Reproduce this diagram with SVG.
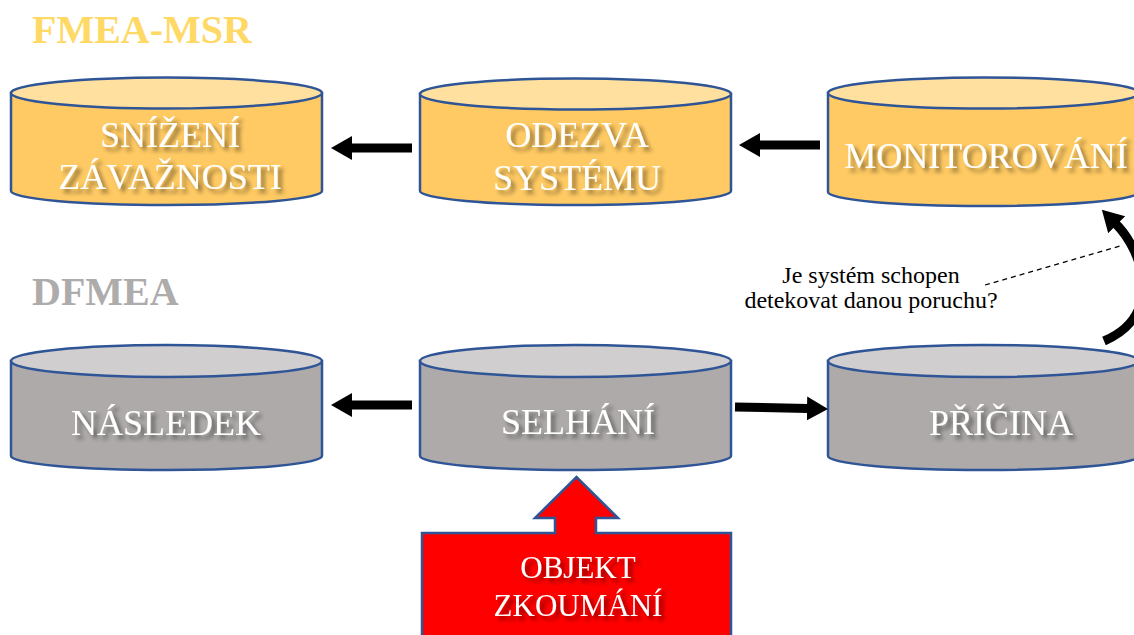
<svg xmlns="http://www.w3.org/2000/svg" width="1134" height="635" viewBox="0 0 1134 635">
<style>
.side-y{fill:#FFCA63;stroke:#2F5597;stroke-width:2.5}
.top-y{fill:#FFE09F;stroke:#2F5597;stroke-width:2.5}
.side-g{fill:#AEAAAA;stroke:#2F5597;stroke-width:2.5}
.top-g{fill:#D0CECE;stroke:#2F5597;stroke-width:2.5}
.lbl{font-family:"Liberation Serif","Times New Roman",serif;font-size:36px;fill:#FFFFFF;text-anchor:middle;filter:url(#sh)}
.lbl2{font-family:"Liberation Serif","Times New Roman",serif;font-size:31px;fill:#FFFFFF;text-anchor:middle;filter:url(#sh)}
.title{font-family:"Liberation Serif","Times New Roman",serif;font-size:40px;font-weight:bold}
.q{font-family:"Liberation Serif","Times New Roman",serif;font-size:24px;fill:#000;text-anchor:middle}
.arr{fill:none;stroke:#000;stroke-width:9}
</style>
<defs>
<filter id="sh" x="-10%" y="-30%" width="130%" height="180%">
<feGaussianBlur in="SourceAlpha" stdDeviation="2"/>
<feOffset dx="4" dy="4" result="b"/>
<feComponentTransfer><feFuncA type="linear" slope="0.45"/></feComponentTransfer>
<feMerge><feMergeNode/><feMergeNode in="SourceGraphic"/></feMerge>
</filter>
<marker id="ah" markerUnits="userSpaceOnUse" markerWidth="22" markerHeight="26" viewBox="0 0 22 26" refX="1" refY="13" orient="auto">
<path d="M0,1 L21,13 L0,25 Z" fill="#000"/>
</marker>
</defs>
<rect width="1134" height="635" fill="#FFFFFF"/>
<text class="title" x="32" y="43" fill="#FFD966">FMEA-MSR</text>
<text class="title" x="32" y="305" fill="#AEABAB">DFMEA</text>

<g id="snizeni">
<path class="side-y" d="M11,93 L11,191 A155.5,14 0 0 0 322,191 L322,93 Z"/>
<ellipse class="top-y" cx="166.5" cy="93" rx="155.5" ry="15.5"/>
<text class="lbl" x="170" y="147">SNÍŽENÍ</text>
<text class="lbl" x="170" y="189">ZÁVAŽNOSTI</text>
</g>
<g id="odezva">
<path class="side-y" d="M420,94 L420,191 A155.5,14 0 0 0 731,191 L731,94 Z"/>
<ellipse class="top-y" cx="575.5" cy="94" rx="155.5" ry="15.5"/>
<text class="lbl" x="577" y="147">ODEZVA</text>
<text class="lbl" x="577" y="190">SYSTÉMU</text>
</g>
<g id="monitorovani">
<path class="side-y" d="M828,93 L828,192 A155.5,14 0 0 0 1139,192 L1139,93 Z"/>
<ellipse class="top-y" cx="983.5" cy="93" rx="155.5" ry="15.5"/>
<text class="lbl" x="986" y="168">MONITOROVÁNÍ</text>
</g>
<g id="nasledek">
<path class="side-g" d="M11,361 L11,456 A155.5,14 0 0 0 322,456 L322,361 Z"/>
<ellipse class="top-g" cx="166.5" cy="361" rx="155.5" ry="16"/>
<text class="lbl" x="166" y="435">NÁSLEDEK</text>
</g>
<g id="selhani">
<path class="side-g" d="M420,361 L420,456 A155.5,14 0 0 0 731,456 L731,361 Z"/>
<ellipse class="top-g" cx="575.5" cy="361" rx="155.5" ry="16"/>
<text class="lbl" x="578" y="434">SELHÁNÍ</text>
</g>
<g id="pricina">
<path class="side-g" d="M828,361 L828,456 A155.5,14 0 0 0 1139,456 L1139,361 Z"/>
<ellipse class="top-g" cx="983.5" cy="361" rx="155.5" ry="16"/>
<text class="lbl" x="1001" y="435">PŘÍČINA</text>
</g>
<g id="objekt">
<path d="M422,533 L555,533 L555,518 L535,518 L576.5,477 L618,518 L596,518 L596,533 L731,533 L731,640 L422,640 Z" fill="#FF0000" stroke="#2F5597" stroke-width="2.5"/>
<text class="lbl2" x="578" y="578">OBJEKT</text>
<text class="lbl2" x="578" y="616">ZKOUMÁNÍ</text>
</g>
<g id="otazka">
<text class="q" x="871" y="283">Je systém schopen</text>
<text class="q" x="871" y="308">detekovat danou poruchu?</text>
</g>

<g id="connectors">
<path class="arr" d="M412,148 L351,148" marker-end="url(#ah)"/>
<path class="arr" d="M820,145 L759,145" marker-end="url(#ah)"/>
<path class="arr" d="M412,405 L351,405" marker-end="url(#ah)"/>
<path class="arr" d="M735,407 L808,408.5" marker-end="url(#ah)"/>
<path class="arr" d="M1104,341 C1165,315 1142,250 1116,224" marker-end="url(#ah)"/>
<path d="M985,285 L1120,246" fill="none" stroke="#000" stroke-width="1.3" stroke-dasharray="5,4"/>
</g>
</svg>
